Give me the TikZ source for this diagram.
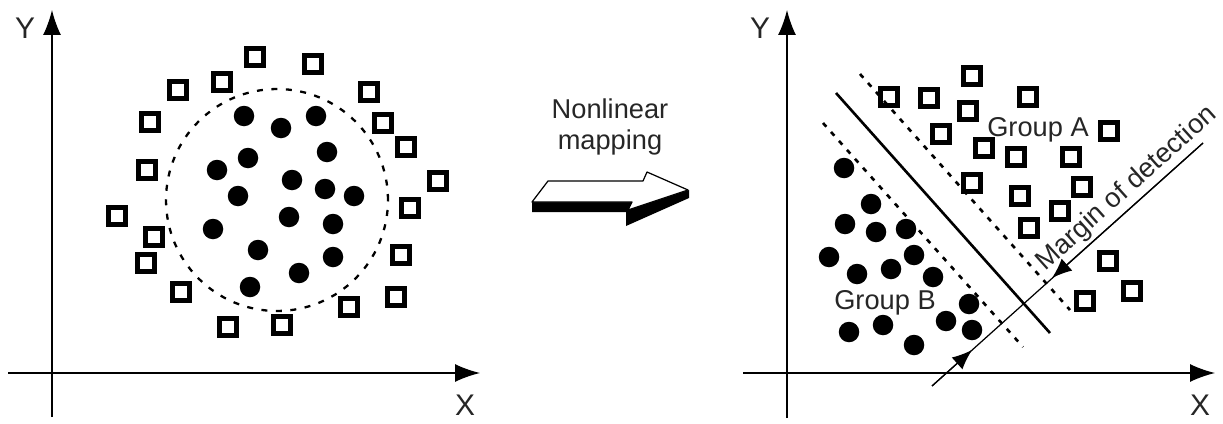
\documentclass[tikz,border=0pt]{standalone}
\usepackage{fontspec}
\setmainfont{Liberation Sans}
\usetikzlibrary{arrows.meta}

\begin{document}
\begin{tikzpicture}[x=0.02cm, y=-0.02cm,
	sqr/.style={draw, line width=2.5pt, minimum size=0.34cm, inner sep=0pt},
	dot/.style={circle, fill, minimum size=0.41cm, inner sep=0pt},
	ax/.style={line width=0.8pt, -{Latex[length=0.5cm, width=0.36cm]}},
	tipm/.style={line width=0.7pt, -{Latex[length=0.4cm, width=0.32cm]}},
	lbl/.style={font=\fontsize{17}{20}\selectfont, text=black!85},
	txt/.style={font=\fontsize{15.5}{18}\selectfont, text=black!85},
	bound/.style={line width=1.5pt, dash pattern=on 0.1cm off 0.14cm}]
	
	\useasboundingbox (0,0) rectangle (1223,423);
	
	% left plot
	\coordinate (lyb) at (52,417);
	\coordinate (lyt) at (52,10);
	\coordinate (lxl) at (8,373);
	\coordinate (lxr) at (480,373);
	\draw[ax] (lyb) -- (lyt);
	\draw[ax] (lxl) -- (lxr);
	\node[lbl] (ly) at (25,28) {Y};
	\node[lbl] (lx) at (465,405) {X};
	
	\draw[line width=1.3pt, dash pattern=on 0.12cm off 0.17cm] (277,200) circle[radius=2.22cm];
	
	\foreach \x/\y [count=\i] in {255/57, 313/64, 222/82, 178/90, 369/92, 150/122, 383/123,
		406/147, 147/170, 438/181, 410/208, 117/216, 154/237, 146/263, 401/255, 181/292,
		396/297, 349/307, 228/327, 282/325}
		\node[sqr] (la\i) at (\x,\y) {};
	
	\foreach \x/\y [count=\i] in {244/116, 281/128, 316/116, 248/158, 327/152, 217/170,
		292/180, 325/189, 354/196, 238/196, 289/217, 333/224, 213/229, 258/250, 333/257,
		299/273, 250/287}
		\node[dot] (lb\i) at (\x,\y) {};
	
	% mapping arrow
	\node[txt, align=center] (map) at (610,127) {Nonlinear\\mapping};
	\fill (532,202) -- (532,212) -- (626,212) -- (626,226) -- (689,198) -- (689,190)
		-- (628,210) -- (632,202) -- cycle;
	\draw[fill=white, line width=0.7pt, line join=round] (532,202) -- (548,181) -- (643,181)
		-- (647,172) -- (688,190) -- (628,210) -- (632,202) -- cycle;
	
	% right plot
	\coordinate (ryb) at (787,418);
	\coordinate (ryt) at (787,10);
	\coordinate (rxl) at (743,373);
	\coordinate (rxr) at (1215,373);
	\draw[ax] (ryb) -- (ryt);
	\draw[ax] (rxl) -- (rxr);
	\node[lbl] (ry) at (760,28) {Y};
	\node[lbl] (rx) at (1200,405) {X};
	
	\coordinate (s1) at (836,93);
	\coordinate (s2) at (1050,333);
	\coordinate (u1) at (860,74);
	\coordinate (u2) at (1070,310);
	\coordinate (d1) at (823,123);
	\coordinate (d2) at (1023,347);
	\draw[line width=1.5pt] (s1) -- (s2);
	\draw[bound] (u1) -- (u2);
	\draw[bound] (d1) -- (d2);
	
	\foreach \x/\y [count=\i] in {972/76, 889/97, 929/98, 1028/97, 968/111, 941/134,
		1109/131, 984/148, 1016/157, 1071/157, 972/183, 1082/187, 1020/196, 1060/211,
		1029/228, 1108/261, 1132/291, 1085/301}
		\node[sqr] (ra\i) at (\x,\y) {};
	
	\foreach \x/\y [count=\i] in {844/168, 871/204, 845/224, 876/232, 906/229, 829/257,
		914/255, 857/274, 891/269, 933/277, 969/304, 946/321, 972/330, 849/332,
		883/325, 914/345}
		\node[dot] (rb\i) at (\x,\y) {};
	
	\node[txt] (ga) at (1038,130) {Group A};
	\node[txt] (gb) at (885,303) {Group B};
	
	% margin of detection
	\coordinate (m1) at (932,386);
	\coordinate (m2) at (1203,143);
	\coordinate (t1) at (972,350);
	\coordinate (t2) at (1052,278);
	\draw[line width=0.7pt] (m1) -- (m2)
		node[txt, pos=0.76, sloped, above, inner sep=2pt] (mt) {Margin of detection};
	\draw[tipm] (m1) -- (t1);
	\draw[tipm] (m2) -- (t2);
\end{tikzpicture}
\end{document}
